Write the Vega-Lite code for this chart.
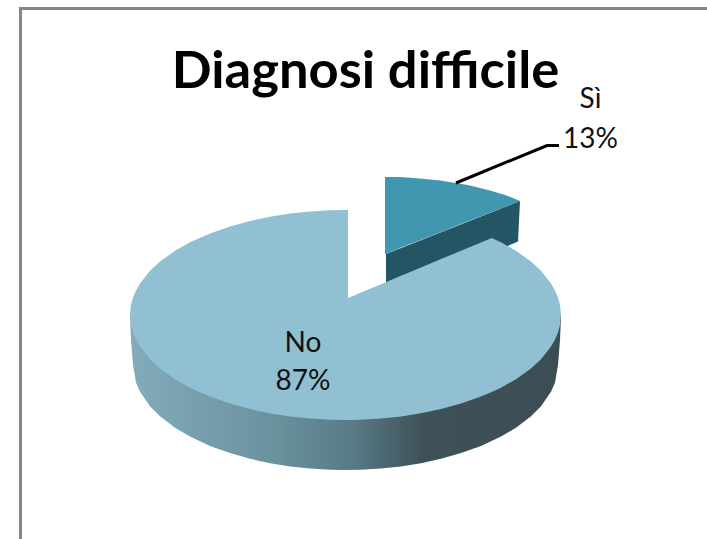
{
  "$schema": "https://vega.github.io/schema/vega-lite/v6.json",
  "width": 707,
  "height": 539,
  "padding": 0,
  "autosize": {"type": "none"},
  "background": "#ffffff",
  "config": {"view": {"stroke": null}},
  "datasets": {
    "frame": [
      {"x": 20.5, "y": 8.5, "x2": 20.5, "y2": 539},
      {"x": 19, "y": 8.5, "x2": 707, "y2": 8.5}
    ],
    "siWall": [
      {"x": 386, "top": 254, "bottom": 298},
      {"x": 518, "top": 201.8, "bottom": 241.5},
      {"x": 520, "top": 201, "bottom": 201}
    ],
    "siFace": [
      {"x": 385, "top": 177, "bottom": 254.5},
      {"x": 400, "top": 177.1, "bottom": 248.1},
      {"x": 420, "top": 178.4, "bottom": 240.3},
      {"x": 440, "top": 180.5, "bottom": 232.4},
      {"x": 456, "top": 183, "bottom": 226.1},
      {"x": 470, "top": 185.6, "bottom": 220.6},
      {"x": 490, "top": 190.4, "bottom": 212.8},
      {"x": 505, "top": 194.9, "bottom": 206.9},
      {"x": 520, "top": 201, "bottom": 201}
    ],
    "noWall": [
      {"x": 130, "top": 315, "bottom": 317},
      {"x": 131, "top": 315, "bottom": 340},
      {"x": 133, "top": 315, "bottom": 365},
      {"x": 136, "top": 315, "bottom": 382.6},
      {"x": 140, "top": 315, "bottom": 391.7},
      {"x": 150, "top": 315, "bottom": 406.2},
      {"x": 160, "top": 315, "bottom": 416.2},
      {"x": 175, "top": 315, "bottom": 427.7},
      {"x": 190, "top": 315, "bottom": 436.6},
      {"x": 210, "top": 315, "bottom": 445.9},
      {"x": 230, "top": 315, "bottom": 453.1},
      {"x": 250, "top": 315, "bottom": 458.8},
      {"x": 270, "top": 315, "bottom": 463.2},
      {"x": 290, "top": 315, "bottom": 466.4},
      {"x": 310, "top": 315, "bottom": 468.5},
      {"x": 330, "top": 315, "bottom": 469.7},
      {"x": 345, "top": 315, "bottom": 470},
      {"x": 361, "top": 315, "bottom": 469.7},
      {"x": 381, "top": 315, "bottom": 468.5},
      {"x": 401, "top": 315, "bottom": 466.4},
      {"x": 421, "top": 315, "bottom": 463.2},
      {"x": 441, "top": 315, "bottom": 458.8},
      {"x": 461, "top": 315, "bottom": 453.1},
      {"x": 481, "top": 315, "bottom": 445.9},
      {"x": 501, "top": 315, "bottom": 436.6},
      {"x": 516, "top": 315, "bottom": 427.7},
      {"x": 531, "top": 315, "bottom": 416.2},
      {"x": 541, "top": 315, "bottom": 406.2},
      {"x": 551, "top": 315, "bottom": 391.7},
      {"x": 555, "top": 315, "bottom": 382.6},
      {"x": 558, "top": 315, "bottom": 365},
      {"x": 560, "top": 315, "bottom": 340},
      {"x": 561, "top": 315, "bottom": 317}
    ],
    "noFace": [
      {"x": 130, "top": 315, "bottom": 315},
      {"x": 131, "top": 304.9, "bottom": 325.1},
      {"x": 133, "top": 297.5, "bottom": 332.5},
      {"x": 136, "top": 290.4, "bottom": 339.6},
      {"x": 140, "top": 283.4, "bottom": 346.6},
      {"x": 150, "top": 270.8, "bottom": 359.2},
      {"x": 160, "top": 261.6, "bottom": 368.4},
      {"x": 175, "top": 250.8, "bottom": 379.2},
      {"x": 190, "top": 242.3, "bottom": 387.7},
      {"x": 210, "top": 233.4, "bottom": 396.6},
      {"x": 230, "top": 226.4, "bottom": 403.6},
      {"x": 250, "top": 220.9, "bottom": 409.1},
      {"x": 270, "top": 216.7, "bottom": 413.3},
      {"x": 290, "top": 213.5, "bottom": 416.5},
      {"x": 310, "top": 211.4, "bottom": 418.6},
      {"x": 330, "top": 210.3, "bottom": 419.7},
      {"x": 348, "top": 210, "bottom": 420},
      {"x": 348, "top": 298, "bottom": 420},
      {"x": 361, "top": 292.6, "bottom": 419.7},
      {"x": 381, "top": 284.2, "bottom": 418.6},
      {"x": 401, "top": 275.8, "bottom": 416.5},
      {"x": 421, "top": 267.5, "bottom": 413.3},
      {"x": 441, "top": 259.1, "bottom": 409.1},
      {"x": 461, "top": 250.7, "bottom": 403.6},
      {"x": 481, "top": 242.4, "bottom": 396.6},
      {"x": 491.7, "top": 237.9, "bottom": 392.1},
      {"x": 501, "top": 242.3, "bottom": 387.7},
      {"x": 516, "top": 250.8, "bottom": 379.2},
      {"x": 531, "top": 261.6, "bottom": 368.4},
      {"x": 541, "top": 270.8, "bottom": 359.2},
      {"x": 551, "top": 283.4, "bottom": 346.6},
      {"x": 555, "top": 290.4, "bottom": 339.6},
      {"x": 558, "top": 297.5, "bottom": 332.5},
      {"x": 560, "top": 304.9, "bottom": 325.1},
      {"x": 561, "top": 315, "bottom": 315}
    ],
    "leader": [
      {"step": 1, "x": 456, "y": 183},
      {"step": 2, "x": 547, "y": 145.5},
      {"step": 3, "x": 559, "y": 145.5}
    ],
    "slices": [
      {"slice": "No", "share": 0.87, "x": 303, "nameY": 352, "shareY": 390},
      {"slice": "Sì", "share": 0.13, "x": 590.5, "nameY": 108, "shareY": 147.5}
    ],
    "heading": [
      {"title": "Diagnosi difficile", "x": 365.5, "y": 88}
    ]
  },
  "encoding": {
    "x": {"field": "x", "type": "quantitative", "axis": null, "scale": {"domain": [0, 707], "nice": false, "zero": false}},
    "y": {"field": "y", "type": "quantitative", "axis": null, "scale": {"domain": [0, 539], "nice": false, "zero": false, "reverse": true}}
  },
  "layer": [
    {
      "data": {"name": "frame"},
      "mark": {"type": "rule", "color": "#868686", "strokeWidth": 3},
      "encoding": {
        "x2": {"field": "x2"},
        "y2": {"field": "y2"}
      }
    },
    {
      "data": {"name": "siWall"},
      "mark": {"type": "area", "color": "#235564"},
      "encoding": {
        "y": {"field": "top", "type": "quantitative"},
        "y2": {"field": "bottom"}
      }
    },
    {
      "data": {"name": "siFace"},
      "mark": {"type": "area", "color": "#4197b0"},
      "encoding": {
        "y": {"field": "top", "type": "quantitative"},
        "y2": {"field": "bottom"}
      }
    },
    {
      "data": {"name": "noWall"},
      "mark": {
        "type": "area",
        "color": {
          "gradient": "linear",
          "x1": 0, "y1": 0, "x2": 1, "y2": 0,
          "stops": [
            {"offset": 0, "color": "#83abbb"},
            {"offset": 0.35, "color": "#68909d"},
            {"offset": 0.52, "color": "#587a86"},
            {"offset": 0.68, "color": "#3f5158"},
            {"offset": 1, "color": "#3c4e54"}
          ]
        }
      },
      "encoding": {
        "y": {"field": "top", "type": "quantitative"},
        "y2": {"field": "bottom"}
      }
    },
    {
      "data": {"name": "noFace"},
      "mark": {"type": "area", "color": "#92c0d3"},
      "encoding": {
        "y": {"field": "top", "type": "quantitative"},
        "y2": {"field": "bottom"}
      }
    },
    {
      "data": {"name": "leader"},
      "mark": {"type": "line", "color": "#000000", "strokeWidth": 3},
      "encoding": {
        "order": {"field": "step", "type": "quantitative"}
      }
    },
    {
      "data": {"name": "heading"},
      "mark": {"type": "text", "font": "Lato", "fontWeight": "bold", "fontSize": 52.5, "align": "center", "baseline": "alphabetic", "color": "#000000"},
      "encoding": {
        "text": {"field": "title", "type": "nominal"}
      }
    },
    {
      "data": {"name": "slices"},
      "mark": {"type": "text", "font": "Lato", "fontSize": 28, "align": "center", "baseline": "alphabetic", "color": "#111111"},
      "encoding": {
        "y": {"field": "nameY", "type": "quantitative"},
        "text": {"field": "slice", "type": "nominal"}
      }
    },
    {
      "data": {"name": "slices"},
      "mark": {"type": "text", "font": "Lato", "fontSize": 28, "align": "center", "baseline": "alphabetic", "color": "#111111"},
      "encoding": {
        "y": {"field": "shareY", "type": "quantitative"},
        "text": {"field": "share", "type": "quantitative", "format": ".0%"}
      }
    }
  ]
}
